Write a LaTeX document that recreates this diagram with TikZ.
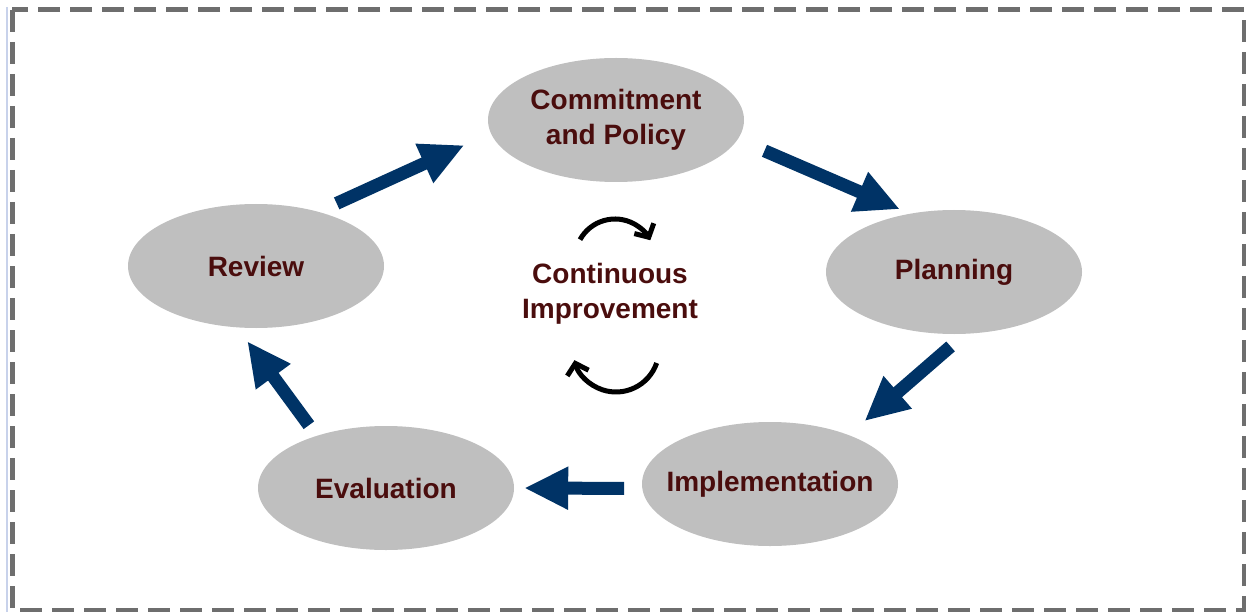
\documentclass[tikz,border=0pt]{standalone}
\usepackage{fontspec}
\setmainfont{Liberation Sans}
\usetikzlibrary{shapes.geometric,arrows.meta}
\definecolor{stagefill}{HTML}{BFBFBF}
\definecolor{stagetext}{HTML}{4A0D0D}
\definecolor{flowblue}{HTML}{003366}
\definecolor{framegray}{HTML}{6E6E6E}
\begin{document}
\begin{tikzpicture}[x=1pt,y=-1pt,
    stage/.style={ellipse,fill=stagefill,minimum width=256pt,minimum height=124pt,inner xsep=-16pt,inner ysep=0pt,
        text=stagetext,font=\bfseries\fontsize{28}{35}\selectfont,align=center},
    flow/.style={line width=13pt,flowblue,-{Triangle[length=44pt,width=40pt]}},
    turn/.style={line width=5pt,black,-{Straight Barb[length=10pt,width=22pt]}}]
    \useasboundingbox (0,0) rectangle (1246,612);
    \draw[line width=2pt,color={rgb,255:red,200;green,210;blue,235}] (7,7) -- (7,612);
    \draw[dash pattern=on 22pt off 10pt,line width=5pt,framegray] (12,10) rectangle (1244,610);
    % the five stages
    \node[stage] (commit) at (616,120) {Commitment\\and Policy};
    \node[stage] (plan) at (954,272) {Planning};
    \node[stage] (impl) at (770,484) {Implementation};
    \node[stage] (eval) at (386,488) {Evaluation};
    \node[stage] (review) at (256,266) {Review};
    \node[text=stagetext,font=\bfseries\fontsize{28}{35}\selectfont,align=center] (improve) at (610,294) {Continuous\\Improvement};
    % flow between stages
    \draw[flow,shorten <=20pt,shorten >=29pt] (review.41) -- (commit.186);
    \draw[flow,shorten <=29pt,shorten >=11pt] (commit.351) -- (plan.127);
    \draw[flow,shorten <=19pt,shorten >=21pt] (plan.280) -- (impl.32);
    \draw[flow,shorten <=18pt,shorten >=10pt] (impl.182) -- (eval.0);
    \draw[flow,shorten <=13pt,shorten >=17pt] (eval.143) -- (review.253);
    % turning arrows round the centre
    \draw[turn] (615,259) ++(151:40pt) arc[start angle=151,end angle=28,radius=40pt];
    \draw[turn] (616,349) ++(-19:43pt) arc[start angle=-19,end angle=-165,radius=43pt];
\end{tikzpicture}
\end{document}
